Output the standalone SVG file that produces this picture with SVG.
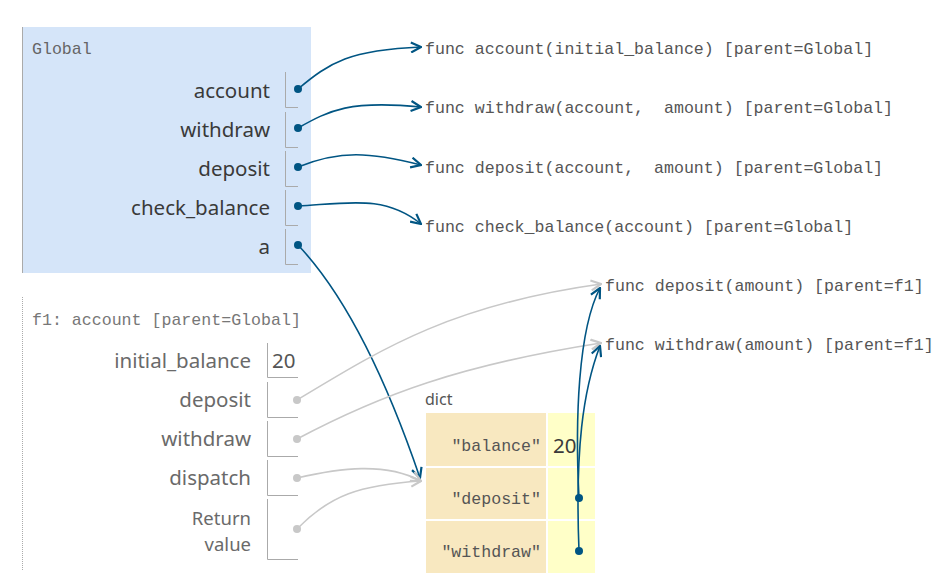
<svg xmlns="http://www.w3.org/2000/svg" width="943" height="578" viewBox="0 0 943 578">
<style>
.mono{font-family:"Liberation Mono","DejaVu Sans Mono",monospace;font-size:16.6px;fill:#555;white-space:pre}
.lbl{font-family:"Noto Sans","DejaVu Sans",sans-serif;font-size:20.5px;text-anchor:end}
.g{fill:#3a3a3a}
.f{fill:#6a6a6a}
.box{fill:none;stroke:#aaa;stroke-width:1}
.dotb{fill:#005583}
.dotg{fill:#c8c8c8}
.ab{fill:none;stroke:#005583;stroke-width:1.6}
.ag{fill:none;stroke:#c8c8c8;stroke-width:1.6}
.key{fill:#f8e8c0}
.val{fill:#ffffc8}
</style>
<defs>
<marker id="hb" viewBox="0 0 12 12" refX="11" refY="6" markerWidth="12" markerHeight="12" markerUnits="userSpaceOnUse" orient="auto">
<path d="M1,1 L11,6 L1,11" fill="none" stroke="#005583" stroke-width="2.2"/>
</marker>
<marker id="hg" viewBox="0 0 12 12" refX="11" refY="6" markerWidth="12" markerHeight="12" markerUnits="userSpaceOnUse" orient="auto">
<path d="M1,1 L11,6 L1,11" fill="none" stroke="#c8c8c8" stroke-width="2.2"/>
</marker>
</defs>
<rect width="943" height="578" fill="#fff"/>

<g id="global">
<rect x="22" y="27" width="289" height="246" fill="#d5e5f9"/>
<line x1="22.5" y1="27" x2="22.5" y2="273" stroke="#aaa"/>
<text x="32" y="54" class="mono" style="fill:#666">Global</text>
<text x="270" y="98" class="lbl g">account</text>
<path d="M285.5,72 V107.5 H298" class="box"/>
<text x="270" y="137" class="lbl g">withdraw</text>
<path d="M285.5,112 V147.5 H298" class="box"/>
<text x="270" y="176" class="lbl g">deposit</text>
<path d="M285.5,151 V186.5 H298" class="box"/>
<text x="270" y="215" class="lbl g">check_balance</text>
<path d="M285.5,190 V225.5 H298" class="box"/>
<text x="270" y="254" class="lbl g">a</text>
<path d="M285.5,229 V264.5 H298" class="box"/>
<circle cx="298" cy="89" r="4" class="dotb"/>
<circle cx="298" cy="128" r="4" class="dotb"/>
<circle cx="298" cy="167" r="4" class="dotb"/>
<circle cx="298" cy="206" r="4" class="dotb"/>
<circle cx="298" cy="245" r="4" class="dotb"/>
</g>

<g id="f1">
<line x1="22.5" y1="297" x2="22.5" y2="570" stroke="#aaa" stroke-dasharray="1,1"/>
<text x="32" y="325" class="mono" style="fill:#777">f1: account [parent=Global]</text>
<text x="251" y="368" class="lbl f">initial_balance</text>
<path d="M267.5,343 V377.5 H298" class="box"/>
<text x="272" y="368" class="lbl" style="text-anchor:start;fill:#555">20</text>
<text x="251" y="407" class="lbl f">deposit</text>
<path d="M267.5,382 V417.5 H298" class="box"/>
<text x="251" y="446" class="lbl f">withdraw</text>
<path d="M267.5,421 V456.5 H298" class="box"/>
<text x="251" y="485" class="lbl f">dispatch</text>
<path d="M267.5,460 V495.5 H298" class="box"/>
<text x="251" y="525" class="lbl f" style="font-size:18.5px">Return</text>
<text x="251" y="551" class="lbl f" style="font-size:18.5px">value</text>
<path d="M267.5,499 V559.5 H298" class="box"/>
<circle cx="297" cy="400" r="4" class="dotg"/>
<circle cx="297" cy="439" r="4" class="dotg"/>
<circle cx="297" cy="478" r="4" class="dotg"/>
<circle cx="297" cy="529" r="4" class="dotg"/>
</g>

<g id="func-account"><text x="425" y="54" class="mono">func account(initial_balance) [parent=Global]</text></g>
<g id="func-withdraw"><text x="425" y="113" class="mono" xml:space="preserve">func withdraw(account,  amount) [parent=Global]</text></g>
<g id="func-deposit"><text x="425" y="173" class="mono" xml:space="preserve">func deposit(account,  amount) [parent=Global]</text></g>
<g id="func-check-balance"><text x="425" y="232" class="mono">func check_balance(account) [parent=Global]</text></g>
<g id="func-deposit-f1"><text x="605" y="291" class="mono">func deposit(amount) [parent=f1]</text></g>
<g id="func-withdraw-f1"><text x="605" y="350" class="mono">func withdraw(amount) [parent=f1]</text></g>

<g id="dict">
<text x="425" y="405" style="font-family:'Noto Sans','DejaVu Sans',sans-serif;font-size:16px;fill:#555">dict</text>
<rect x="426" y="413" width="120" height="53" class="key"/>
<rect x="548" y="413" width="47" height="53" class="val"/>
<rect x="426" y="468" width="120" height="51" class="key"/>
<rect x="548" y="468" width="47" height="51" class="val"/>
<rect x="426" y="521" width="120" height="52" class="key"/>
<rect x="548" y="521" width="47" height="52" class="val"/>
<text x="541" y="451" class="mono" style="text-anchor:end">"balance"</text>
<text x="541" y="504" class="mono" style="text-anchor:end">"deposit"</text>
<text x="541" y="557" class="mono" style="text-anchor:end">"withdraw"</text>
<text x="553" y="453" class="lbl" style="text-anchor:start;fill:#3a3a3a">20</text>
<circle cx="579" cy="498" r="4" class="dotb"/>
<circle cx="579" cy="551" r="4" class="dotb"/>
</g>

<g id="connectors">
<path d="M298,89 C330,62 350,50 421,47" class="ab" marker-end="url(#hb)"/>
<path d="M298,128 C330,110 350,100 421,107" class="ab" marker-end="url(#hb)"/>
<path d="M298,167 C340,150 370,152 421,165" class="ab" marker-end="url(#hb)"/>
<path d="M298,206 C350,203 385,195 421,224" class="ab" marker-end="url(#hb)"/>
<path d="M298,245 C350,300 390,390 420,478" class="ab" marker-end="url(#hb)"/>
<path d="M297,400 C380,350 450,305 601,284" class="ag" marker-end="url(#hg)"/>
<path d="M297,439 C380,395 460,365 601,343" class="ag" marker-end="url(#hg)"/>
<path d="M297,478 C340,468 385,462 421,481" class="ag" marker-end="url(#hg)"/>
<path d="M297,529 C330,495 360,485 421,481" class="ag" marker-end="url(#hg)"/>
<path d="M579,498 C575,420 578,330 600,288" class="ab" marker-end="url(#hb)"/>
<path d="M579,551 C575,450 583,390 600,346" class="ab" marker-end="url(#hb)"/>
</g>
</svg>
